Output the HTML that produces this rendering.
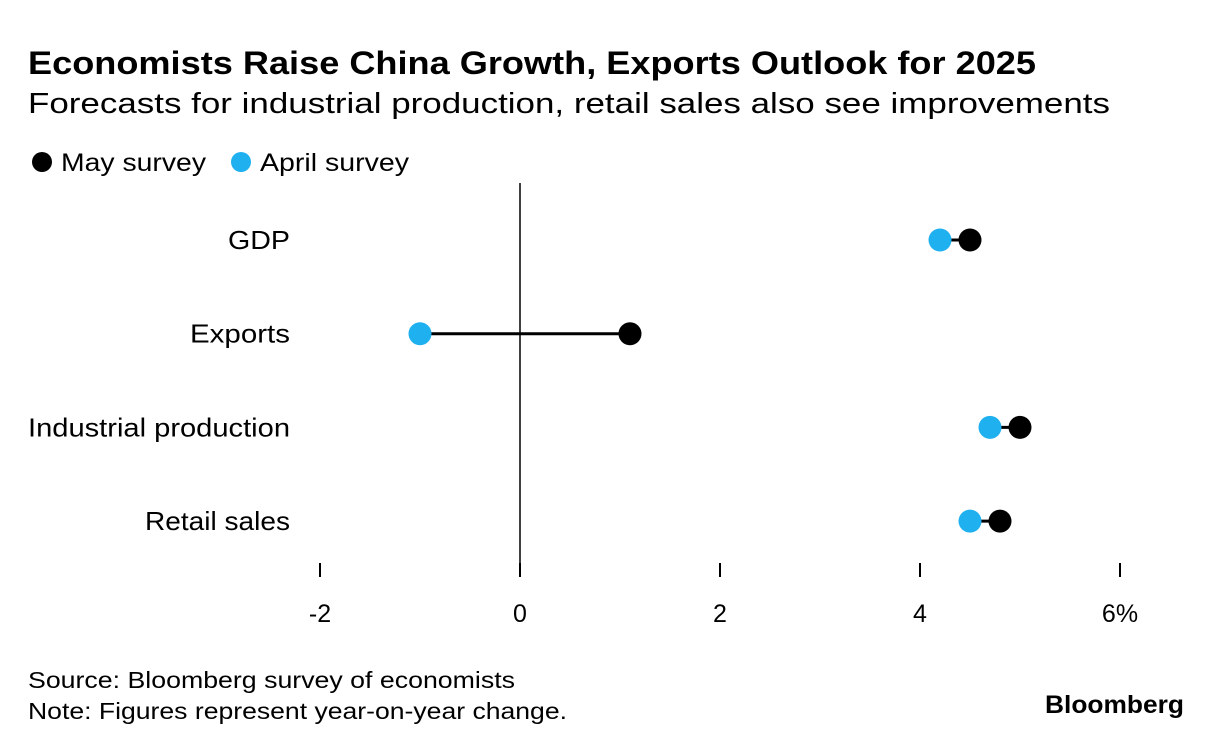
<!DOCTYPE html>
<html><head><meta charset="utf-8"><style>
body{margin:0;background:#fff;font-family:"Liberation Sans",Arial,sans-serif;}
svg text{font-family:"Liberation Sans",Arial,sans-serif;}
</style></head><body>
<svg width="1223" height="748" viewBox="0 0 1223 748">
<text x="28" y="74" font-size="32" font-weight="bold" fill="#000" textLength="1008" lengthAdjust="spacingAndGlyphs">Economists Raise China Growth, Exports Outlook for 2025</text>
<text x="28" y="113" font-size="29" fill="#000" textLength="1082" lengthAdjust="spacingAndGlyphs">Forecasts for industrial production, retail sales also see improvements</text>
<g>
<circle cx="42" cy="162" r="10" fill="#000"/>
<text x="61" y="171" font-size="25" textLength="145" lengthAdjust="spacingAndGlyphs">May survey</text>
<circle cx="241" cy="162" r="10" fill="#1fb0f0"/>
<text x="260" y="171" font-size="25" textLength="149" lengthAdjust="spacingAndGlyphs">April survey</text>
</g>
<g id="plot"></g>
<text x="28" y="688" font-size="23" textLength="487" lengthAdjust="spacingAndGlyphs">Source: Bloomberg survey of economists</text>
<text x="28" y="719" font-size="23" textLength="539" lengthAdjust="spacingAndGlyphs">Note: Figures represent year-on-year change.</text>
<text x="1045" y="713" font-size="25" font-weight="bold" textLength="139" lengthAdjust="spacingAndGlyphs">Bloomberg</text>
</svg>
<script>
const categories=["GDP","Exports","Industrial production","Retail sales"];
const maySurvey=[4.5,1.1,5.0,4.8];
const aprilSurvey=[4.2,-1.0,4.7,4.5];
const ticks=[-2,0,2,4,6];
const tickLabels=["-2","0","2","4","6%"];
const labelWidths=[62,100,262,145];
const NS="http://www.w3.org/2000/svg";
const g=document.getElementById("plot");
const x=v=>520+(v-0)*100;
const y=i=>240+i*93.7;
function mk(t,a){const e=document.createElementNS(NS,t);for(const k in a)e.setAttribute(k,a[k]);g.appendChild(e);return e;}
const zl=mk("line",{x1:x(0),x2:x(0),y1:183,y2:577,stroke:"#000","stroke-width":1.5});


ticks.forEach((t,i)=>{
 const l=mk("line",{x1:x(t),x2:x(t),y1:563,y2:577,stroke:"#000","stroke-width":2});
 
 
 const tx=mk("text",{x:x(t),y:622,"font-size":25,"text-anchor":"middle"});
 tx.textContent=tickLabels[i];
 
 
});
categories.forEach((c,i)=>{
 const lb=mk("text",{x:290,y:y(i)+9,"font-size":26,"text-anchor":"end",textLength:labelWidths[i],lengthAdjust:"spacingAndGlyphs"});
 lb.textContent=c;
 
 
 const cn=mk("line",{x1:x(aprilSurvey[i]),x2:x(maySurvey[i]),y1:y(i),y2:y(i),stroke:"#000","stroke-width":3});
 
 
 const a=mk("circle",{cx:x(aprilSurvey[i]),cy:y(i),r:11.5,fill:"#1fb0f0"});
 
 
 const m=mk("circle",{cx:x(maySurvey[i]),cy:y(i),r:11.5,fill:"#000"});
 
 
});
</script>
</body></html>
